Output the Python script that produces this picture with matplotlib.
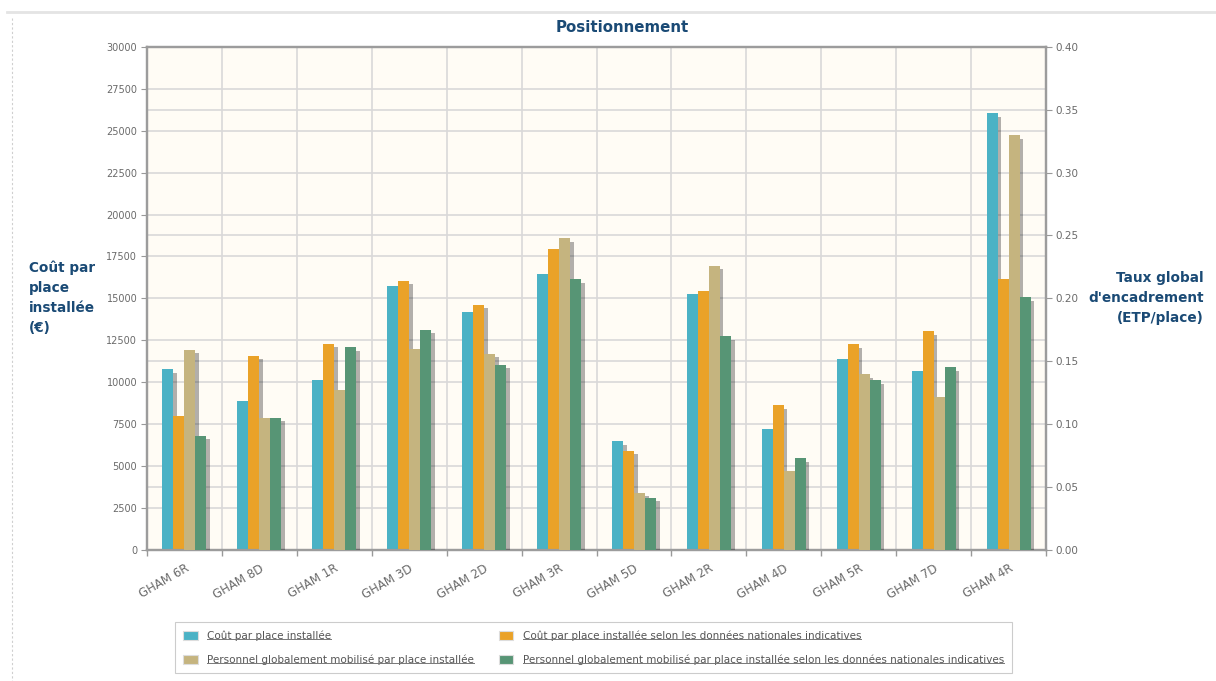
import numpy as np
import matplotlib
matplotlib.use("Agg")
import matplotlib.pyplot as plt
import matplotlib.patheffects as pe
from matplotlib.patches import Patch
from matplotlib.lines import Line2D

# ---------------- data ----------------
categories = ["GHAM 6R", "GHAM 8D", "GHAM 1R", "GHAM 3D", "GHAM 2D", "GHAM 3R",
              "GHAM 5D", "GHAM 2R", "GHAM 4D", "GHAM 5R", "GHAM 7D", "GHAM 4R"]
# left axis (EUR)
cout_place = [10780, 8860, 10140, 15760, 14160, 16440, 6470, 15280, 7190, 11370, 10660, 26050]
cout_national = [8000, 11570, 12290, 16040, 14620, 17950, 5910, 15420, 8600, 12270, 13050, 16160]
# right axis (ETP/place)
personnel_place = [0.159, 0.1045, 0.127, 0.160, 0.156, 0.248, 0.0453, 0.226, 0.0626, 0.1396, 0.1215, 0.330]
personnel_national = [0.0907, 0.105, 0.161, 0.175, 0.147, 0.215, 0.0413, 0.170, 0.0729, 0.135, 0.145, 0.2006]

labels = ["Coût par place installée",
          "Coût par place installée selon les données nationales indicatives",
          "Personnel globalement mobilisé par place installée",
          "Personnel globalement mobilisé par place installée selon les données nationales indicatives"]
colors = ["#4bb2c5", "#EAA228", "#c5b47f", "#579575"]

title_col = "#1a4a75"
tick_col = "#6a6a6a"

# ---------------- figure ----------------
W, H = 1216, 681
fig = plt.figure(figsize=(W / 100, H / 100), dpi=100)
fig.patch.set_facecolor("white")

x0, x1, ytop, ybot = 147, 1046, 47, 549.5
ax = fig.add_axes([x0 / W, (H - ybot) / H, (x1 - x0) / W, (ybot - ytop) / H])
ax2 = ax.twinx()
ax.set_zorder(1)
ax2.set_zorder(2)
ax.set_facecolor("#fffcf5")
ax2.patch.set_visible(False)

n = len(categories)
x = np.arange(n)
bw = 0.147
shadow = [pe.SimplePatchShadow(offset=(2.6, -2.6), shadow_rgbFace="k", alpha=0.3), pe.Normal()]

ax.bar(x - 1.5 * bw, cout_place, bw, color=colors[0], zorder=3, path_effects=shadow)
ax.bar(x - 0.5 * bw, cout_national, bw, color=colors[1], zorder=3, path_effects=shadow)
ax2.bar(x + 0.5 * bw, personnel_place, bw, color=colors[2], zorder=3, path_effects=shadow)
ax2.bar(x + 1.5 * bw, personnel_national, bw, color=colors[3], zorder=3, path_effects=shadow)

ax.set_xlim(-0.5, n - 0.5)
ax.set_ylim(0, 30000)
ax2.set_ylim(0, 0.40)

# left ticks + grid, plus grid lines that match the right axis ticks
ax.set_yticks(np.arange(0, 30001, 2500))
ax.set_yticks(np.arange(0, 30001, 3750), minor=True)
ax.tick_params(axis="y", which="minor", length=0)
ax.grid(axis="y", which="both", color="#d9d9d9", linewidth=1.2, zorder=0)
ax.set_axisbelow(True)
ax2.set_yticks(np.arange(0, 0.401, 0.05))
ax2.yaxis.set_major_formatter(matplotlib.ticker.FormatStrFormatter("%.2f"))

# x: labels at centres, grid/ticks at boundaries
ax.set_xticks(x)
ax.set_xticklabels(categories, rotation=30, ha="right", rotation_mode="anchor")
ax.set_xticks(np.arange(-0.5, n, 1.0), minor=True)
ax.tick_params(axis="x", which="major", length=0, pad=9, labelsize=8.5, labelcolor=tick_col)
ax.tick_params(axis="x", which="minor", length=4, color="#999999", width=1)
ax.grid(axis="x", which="minor", color="#d9d9d9", linewidth=1.2, zorder=0)

ax.tick_params(axis="y", which="major", length=4, color="#999999", labelsize=7, labelcolor=tick_col, pad=3)
ax2.tick_params(axis="y", length=4, color="#999999", labelsize=7.5, labelcolor=tick_col, pad=3)

for a in (ax, ax2):
    for s in a.spines.values():
        s.set_color("#9c9c9c")
        s.set_linewidth(1.6)

# titles
fig.text(622 / W, 1 - 27 / H, "Positionnement", ha="center", va="center",
         fontsize=10.8, fontweight="bold", color=title_col)
fig.text(29 / W, 1 - 298 / H, "Coût par\nplace\ninstallée\n(€)", ha="left", va="center",
         fontsize=9.8, fontweight="bold", color=title_col, linespacing=1.55)
fig.text(1204 / W, 1 - 298 / H, "Taux global\nd'encadrement\n(ETP/place)", ha="right", va="center",
         fontsize=9.8, fontweight="bold", color=title_col, linespacing=1.55, multialignment="right")

# legend: row 1 blue/orange, row 2 tan/green
handles = [Patch(facecolor=c, edgecolor="#dddddd", linewidth=0.8) for c in colors]
order = [0, 2, 1, 3]
leg = fig.legend([handles[i] for i in order], [labels[i] for i in order],
                 loc="upper left", bbox_to_anchor=(175 / W, 1 - 622 / H),
                 ncol=2, borderaxespad=0, frameon=True, fancybox=False,
                 edgecolor="#cccccc", framealpha=1, handlelength=1.4, handleheight=1.0,
                 handletextpad=0.9, labelspacing=1.3, borderpad=0.8, columnspacing=2.35,
                 prop={"family": "DejaVu Sans", "size": 7.5})
leg.get_frame().set_linewidth(0.8)
for t in leg.get_texts():
    t.set_color("#555555")

# page decorations
fig.add_artist(Line2D([7 / W, 1], [1 - 12 / H, 1 - 12 / H], transform=fig.transFigure,
                      color="#e4e4e4", linewidth=2))
fig.add_artist(Line2D([12 / W, 12 / W], [1 - 18 / H, 0], transform=fig.transFigure,
                      color="#cfcfcf", linewidth=0.8, linestyle=(0, (2, 2))))

# underline legend labels
fig.canvas.draw()
inv = fig.transFigure.inverted()
for t in leg.get_texts():
    bb = t.get_window_extent(fig.canvas.get_renderer())
    (xa, ya), (xb, _) = inv.transform([(bb.x0, bb.y0 + 1.5), (bb.x1, bb.y0 + 1.5)])
    fig.add_artist(Line2D([xa, xb], [ya, ya], transform=fig.transFigure,
                          color="#777777", linewidth=0.7, zorder=10))

fig.savefig("out.png", dpi=100)
